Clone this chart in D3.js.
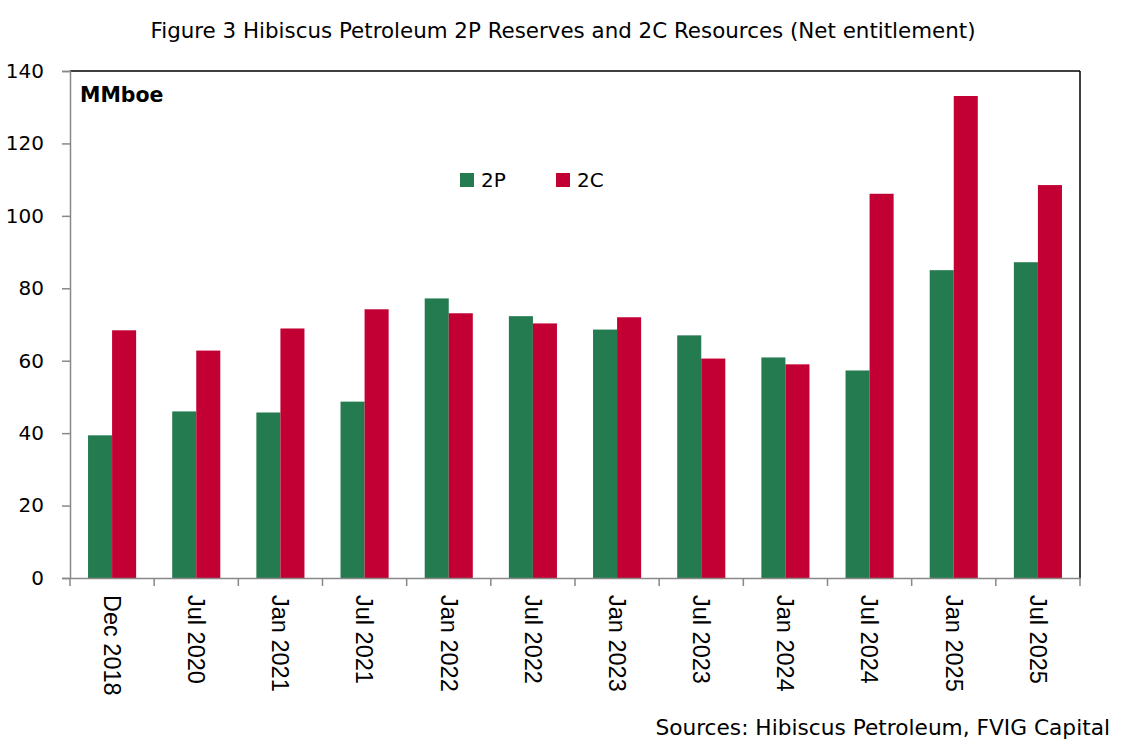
<!DOCTYPE html>
<html>
<head>
<meta charset="utf-8">
<script src="https://cdn.jsdelivr.net/npm/d3@7"></script>
<style>
  html, body { margin: 0; padding: 0; background: #fff; }
  svg { display: block; }
</style>
</head>
<body>
<svg id="chart" width="1126" height="748"></svg>
<script>
const categories = ["Dec 2018","Jul 2020","Jan 2021","Jul 2021","Jan 2022","Jul 2022","Jan 2023","Jul 2023","Jan 2024","Jul 2024","Jan 2025","Jul 2025"];
const values2P = [39.4, 46.0, 45.7, 48.7, 77.2, 72.3, 68.6, 67.0, 60.9, 57.3, 85.0, 87.2];
const values2C = [68.4, 62.8, 68.9, 74.2, 73.1, 70.3, 72.0, 60.6, 59.0, 106.1, 133.1, 108.5];
const seriesNames = ["2P", "2C"];
const yTicks = [0, 20, 40, 60, 80, 100, 120, 140];

const colors = { "2P": "#247B50", "2C": "#C20034" };
const mainFont = "'DejaVu Sans', Lato, sans-serif";
const axisFont = "'Liberation Sans', Arial, sans-serif";

const svg = d3.select("#chart");
const m = { left: 70, right: 1080, top: 71, bottom: 578 };

const x = d3.scaleBand().domain(categories).range([m.left, m.right]).paddingInner(0).paddingOuter(0);
const xs = d3.scaleBand().domain(seriesNames).range([0, x.bandwidth()]).paddingInner(0).paddingOuter(0.75);
const y = d3.scaleLinear().domain([0, 140]).range([m.bottom, m.top]);

// Title
svg.append("text")
  .attr("x", 563).attr("y", 38)
  .attr("text-anchor", "middle")
  .style("font-family", mainFont)
  .style("font-size", "21.4px")
  .style("fill", "#000")
  .text("Figure 3 Hibiscus Petroleum 2P Reserves and 2C Resources (Net entitlement)");

// Bars
const data = categories.map((c, i) => ({ cat: c, vals: [ {s: "2P", v: values2P[i]}, {s: "2C", v: values2C[i]} ] }));
const g = svg.append("g");
g.selectAll("g.cat").data(data).join("g")
  .attr("class", "cat")
  .attr("transform", d => `translate(${x(d.cat)},0)`)
  .selectAll("rect").data(d => d.vals).join("rect")
  .attr("x", d => xs(d.s))
  .attr("width", xs.bandwidth())
  .attr("y", d => y(d.v))
  .attr("height", d => y(0) - y(d.v))
  .attr("fill", d => colors[d.s]);

// Top and right frame (black)
svg.append("line").attr("x1", m.left).attr("x2", m.right).attr("y1", m.top).attr("y2", m.top)
  .attr("stroke", "#000").attr("stroke-width", 1.5);
svg.append("line").attr("x1", m.right).attr("x2", m.right).attr("y1", m.top).attr("y2", m.bottom)
  .attr("stroke", "#000").attr("stroke-width", 1.5);

// Y axis
const yAxis = svg.append("g")
  .attr("transform", `translate(${m.left},0)`)
  .call(d3.axisLeft(y).tickValues(yTicks).tickSize(8).tickPadding(18).tickFormat(d3.format("d")));
yAxis.select(".domain").attr("stroke", "#888").attr("stroke-width", 1.5);
yAxis.selectAll(".tick line").attr("stroke", "#888").attr("stroke-width", 1.5);
yAxis.selectAll(".tick text")
  .style("font-family", mainFont)
  .style("font-size", "20px")
  .style("fill", "#000");

// X axis
const xAxis = svg.append("g")
  .attr("transform", `translate(0,${m.bottom})`)
  .call(d3.axisBottom(x).tickSize(0).tickPadding(0));
xAxis.select(".domain").attr("stroke", "#888").attr("stroke-width", 1.5);
xAxis.selectAll(".tick text")
  .attr("transform", "rotate(90)")
  .attr("x", 17).attr("y", 0).attr("dy", "0.35em")
  .style("text-anchor", "start")
  .style("font-family", axisFont)
  .style("font-size", "23.5px")
  .style("fill", "#000");
// category boundary ticks
const boundaries = categories.map(c => x(c)).concat([m.right]);
svg.append("g").selectAll("line").data(boundaries).join("line")
  .attr("x1", d => d).attr("x2", d => d)
  .attr("y1", m.bottom).attr("y2", m.bottom + 8)
  .attr("stroke", "#888").attr("stroke-width", 1.5);

// Unit label
svg.append("text")
  .attr("x", 80).attr("y", 102)
  .style("font-family", mainFont)
  .style("font-size", "20.5px")
  .style("font-weight", "bold")
  .style("fill", "#000")
  .text("MMboe");

// Legend
const legend = svg.append("g");
const legendX = [460, 556];
seriesNames.forEach((s, i) => {
  legend.append("rect")
    .attr("x", legendX[i]).attr("y", 173)
    .attr("width", 14).attr("height", 14)
    .attr("fill", colors[s]);
  legend.append("text")
    .attr("x", legendX[i] + 21).attr("y", 187)
    .style("font-family", mainFont)
    .style("font-size", "20px")
    .style("fill", "#000")
    .text(s);
});

// Source
svg.append("text")
  .attr("x", 1110).attr("y", 735)
  .attr("text-anchor", "end")
  .style("font-family", mainFont)
  .style("font-size", "21.7px")
  .style("fill", "#000")
  .text("Sources: Hibiscus Petroleum, FVIG Capital");
</script>
</body>
</html>
